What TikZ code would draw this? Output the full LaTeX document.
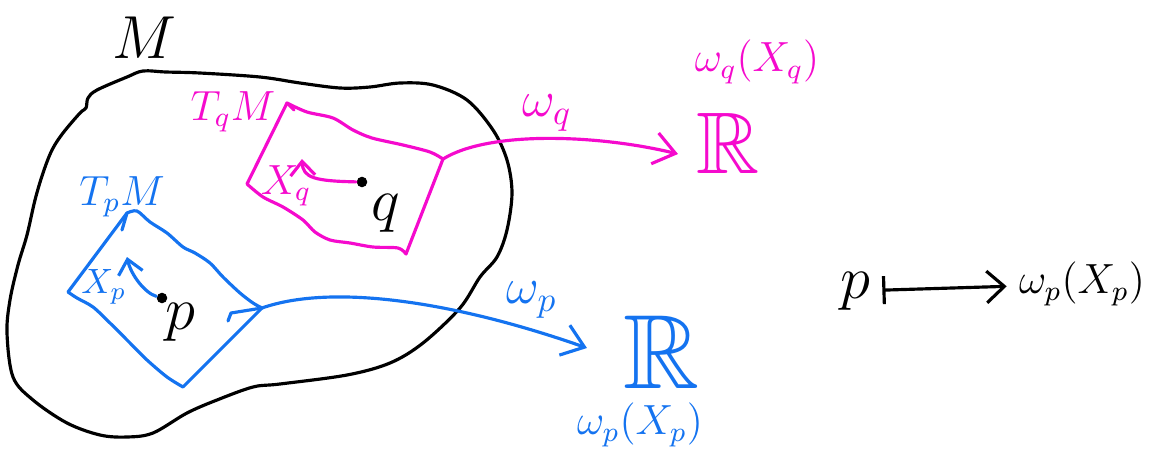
\documentclass[tikz,border=0pt]{standalone}
\usepackage{amssymb}
\usetikzlibrary{arrows.meta}
\definecolor{penmag}{RGB}{245,10,205}
\definecolor{penblue}{RGB}{20,115,240}

\begin{document}
\begin{tikzpicture}[x=0.01cm,y=-0.01cm,
  handline/.style={line width=0.9pt,line cap=round,line join=round},
  barbarrow/.style={-{Straight Barb[length=6pt,width=9pt]}},
  smallbarb/.style={-{Straight Barb[length=4pt,width=7pt]}},
  mapsarrow/.style={{Bar[width=8pt]}-{Straight Barb[length=5pt,width=9pt]}},
  dotnode/.style={circle,fill=black,inner sep=0pt,minimum size=3pt}]
  \useasboundingbox (0,0) rectangle (1153,454);

  % the manifold
  \draw[handline] plot[smooth cycle,tension=0.55] coordinates {
    (166,72) (200,73) (260,77) (300,83) (340,88) (370,87) (400,83) (433,85)
    (467,100) (493,130) (507,160) (512,193) (507,230) (497,257) (480,277)
    (460,308) (423,343) (390,363) (347,375) (280,384) (253,387) (217,400)
    (187,413) (153,433) (127,437) (100,435) (67,423) (33,400) (13,377)
    (7,333) (10,300) (18,265) (27,235) (35,200) (43,173) (52,150) (63,133)
    (80,113) (86,108) (88,98) (97,90) (127,77) (143,71)};
  \node (M) at (144,38) {\LARGE $M$};

  % tangent space at q
  \coordinate (qA) at (287,103);
  \coordinate (qB) at (247,184);
  \coordinate (qC) at (406,254);
  \coordinate (qD) at (443,159);
  \draw[handline,penmag] (qB) -- (qA) -- plot[smooth] coordinates {
    (287,103) (307,112) (333,118) (353,130) (372,138) (403,145) (430,152) (443,159)}
    -- (qC) -- plot[smooth] coordinates {
    (406,254) (398,248) (373,247) (350,243) (330,240) (315,232) (303,220)
    (283,207) (263,197) (247,184)};
  \draw[handline,penmag] (qA) -- ++(7,7);
  \node[penmag] (TqM) at (233,112) {\large $T_qM$};
  \node[dotnode] (qdot) at (362,182) {};
  \coordinate (Xqtip) at (302,159);
  \draw[handline,penmag,smallbarb] (qdot) .. controls (315,181) and (303,178) .. (Xqtip);
  \node[penmag] (Xq) at (286,186) {\large $X_q$};
  \node (q) at (386,213) {\LARGE $q$};

  % tangent space at p
  \coordinate (pA) at (127,213);
  \coordinate (pB) at (68,292);
  \coordinate (pC) at (183,387);
  \coordinate (pD) at (262,308);
  \draw[handline,penblue] (pB) -- (pA) -- plot[smooth] coordinates {
    (127,213) (137,211) (150,222) (167,233) (183,247) (195,253) (210,263)
    (223,277) (240,293) (253,303) (262,308)}
    -- (pC) -- plot[smooth] coordinates {
    (183,387) (167,377) (147,360) (130,343) (110,323) (93,307) (77,298) (68,292)};
  \draw[handline,penblue] (pA) -- ++(-5,17);
  \node[penblue] (TpM) at (122,197) {\large $T_pM$};
  \node[dotnode] (pdot) at (162,298) {};
  \coordinate (Xptip) at (127,257);
  \draw[handline,penblue,smallbarb] (pdot) .. controls (145,293) and (131,275) .. (Xptip);
  \node[penblue] (Xp) at (104,287) {$X_p$};
  \node (p) at (180,322) {\LARGE $p$};

  % the two covectors
  \coordinate (wqend) at (678,154);
  \draw[handline,penmag,barbarrow] (qD) .. controls (490,130) and (600,135) .. (wqend);
  \node[penmag] (wq) at (547,113) {\Large $\omega_q$};
  \node[penmag] (Rq) at (728,143) {\Huge $\mathbb{R}$};
  \node[penmag] (wqXq) at (757,62) {\large $\omega_q(X_q)$};

  \coordinate (hook) at (228,321);
  \coordinate (wpend) at (587,348);
  \draw[handline,penblue,barbarrow] (hook) -- ++(3,-8) -- (pD)
    .. controls (330,284) and (450,300) .. (wpend);
  \node[penblue] (wp) at (532,300) {\Large $\omega_p$};
  \node[penblue] (Rp) at (662,352) {\fontsize{30}{32}\selectfont $\mathbb{R}$};
  \node[penblue] (wpXp) at (640,425) {\large $\omega_p(X_p)$};

  % the map
  \node (pR) at (855,291) {\LARGE $p$};
  \node (wpXpR) at (1082,284) {\large $\omega_p(X_p)$};
  \draw[handline,mapsarrow] (pR) -- (wpXpR);
\end{tikzpicture}
\end{document}
